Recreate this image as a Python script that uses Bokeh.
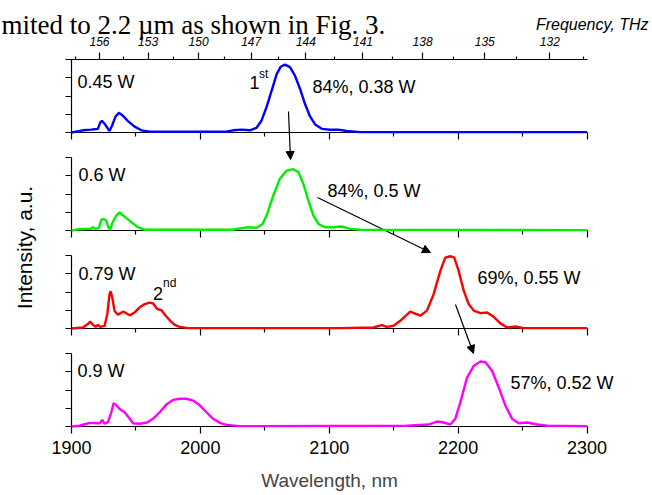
import math
from bokeh.plotting import figure
from bokeh.models import (Range1d, LinearAxis, FixedTicker, CustomJSTickFormatter,
                          Label, Arrow, NormalHead)
from bokeh.embed import file_html
from bokeh.resources import INLINE

# ---------------- data ----------------
wl_ticks = [1900, 2000, 2100, 2200, 2300]
wl_minor = [1950, 2050, 2150, 2250]
freq_major = [156, 153, 150, 147, 144, 141, 138, 135, 132]
freq_minor = [157.5, 154.5, 151.5, 148.5, 145.5, 142.5, 139.5, 136.5, 133.5, 130.5]
C_NM_THZ = 299792.458

pump_labels = ["0.45 W", "0.6 W", "0.79 W", "0.9 W"]
eff_labels = ["84%, 0.38 W", "84%, 0.5 W", "69%, 0.55 W", "57%, 0.52 W"]
colors = ["#0000ff", "#00ee00", "#ff0000", "#ff00ff"]

wl_045 = [1900, 1908.8, 1915.3, 1917.9, 1920.5, 1922.3, 1923.6, 1925.7, 1927.8, 1929.5,
          1931.6, 1934.2, 1936.8, 1939.9, 1943.8, 1949, 1954.2, 1960.7, 2020, 2025.4,
          2032, 2038.4, 2043.6, 2047.5, 2051.4, 2055.3, 2059.2, 2062.3, 2065.6, 2069.5,
          2073.4, 2077.3, 2081.2, 2085.1, 2089, 2094.2, 2100.6, 2107, 2113.6, 2124, 2300]
int_045 = [0.00, 0.03, 0.04, 0.045, 0.05, 0.14, 0.16, 0.12, 0.065, 0.02,
           0.10, 0.22, 0.27, 0.23, 0.155, 0.08, 0.03, 0.01, 0.01, 0.03,
           0.04, 0.03, 0.065, 0.165, 0.35, 0.575, 0.80, 0.90, 0.93, 0.895,
           0.78, 0.60, 0.39, 0.22, 0.11, 0.05, 0.037, 0.04, 0.02, 0.005, 0.005]

wl_06 = [1900, 1906.2, 1915.3, 1916.6, 1918.7, 1921.3, 1923.1, 1924.9, 1927, 1928.5,
         1930.1, 1931.6, 1934.8, 1937.3, 1941.2, 1946.4, 1951.6, 1956.8, 2025, 2030.6,
         2037.1, 2043.6, 2048.3, 2051.9, 2056.6, 2061.7, 2066.9, 2072.1, 2076, 2079.9,
         2083.8, 2087.7, 2091.6, 2096.7, 2103.2, 2109.7, 2116.2, 2124, 2300]
int_06 = [0.0, 0.018, 0.023, 0.045, 0.023, 0.037, 0.147, 0.155, 0.137, 0.045,
          0.01, 0.10, 0.205, 0.247, 0.19, 0.115, 0.045, 0.01, 0.01, 0.027,
          0.045, 0.037, 0.09, 0.23, 0.48, 0.71, 0.82, 0.84, 0.80, 0.64,
          0.41, 0.205, 0.09, 0.045, 0.045, 0.055, 0.023, 0.01, 0.005]

wl_079 = [1900, 1908.8, 1912.7, 1914.5, 1916.6, 1918.7, 1920.5, 1922.3, 1925.7, 1927.8,
          1929.5, 1930.3, 1931.6, 1933.4, 1936, 1939.9, 1942.5, 1945.1, 1949, 1952.9,
          1956.8, 1960.7, 1963.2, 1966.3, 1969.8, 1973.1, 1976.7, 1980.1, 1984, 1990.4,
          2108, 2134.3, 2140.8, 2144.7, 2149.9, 2155.1, 2162.8, 2170.6, 2175.8, 2181,
          2186.2, 2190, 2193.9, 2197, 2200.4, 2204.3, 2208.2, 2212.1, 2217.3, 2222.4,
          2227.6, 2232.8, 2238, 2244.5, 2251, 2300]
int_079 = [0.0, 0.014, 0.06, 0.096, 0.05, 0.023, 0.05, 0.023, 0.037, 0.2,
           0.47, 0.51, 0.43, 0.24, 0.19, 0.23, 0.21, 0.18, 0.22, 0.29,
           0.335, 0.355, 0.345, 0.27, 0.25, 0.175, 0.105, 0.05, 0.023, 0.005,
           0.005, 0.014, 0.047, 0.023, 0.037, 0.105, 0.23, 0.175, 0.245, 0.47,
           0.79, 0.97, 0.99, 0.97, 0.79, 0.52, 0.335, 0.245, 0.21, 0.22,
           0.16, 0.07, 0.014, 0.027, 0.005, 0.005]

wl_09 = [1900, 1906.2, 1914, 1919.2, 1921.8, 1923.9, 1925.7, 1928.3, 1930.9, 1932.7,
         1934.8, 1937.3, 1941.2, 1944.6, 1947.7, 1952.9, 1958.6, 1963.2, 1968.4, 1973.6,
         1978.8, 1984, 1989.1, 1994.3, 1999.5, 2004.7, 2009.9, 2015.1, 2020.3, 2030.6,
         2160.2, 2177, 2183.6, 2188.8, 2193.9, 2197.8, 2201.7, 2206.9, 2212.1, 2217.3,
         2221.2, 2226.4, 2231.5, 2236.7, 2241.9, 2247, 2253.5, 2261.3, 2269.1, 2300]
int_09 = [0.0, 0.01, 0.05, 0.045, 0.045, 0.09, 0.037, 0.06, 0.195, 0.32,
          0.29, 0.24, 0.195, 0.12, 0.045, 0.037, 0.055, 0.105, 0.195, 0.30,
          0.365, 0.38, 0.38, 0.355, 0.29, 0.195, 0.105, 0.05, 0.023, 0.005,
          0.01, 0.027, 0.068, 0.055, 0.027, 0.105, 0.33, 0.67, 0.83, 0.89,
          0.88, 0.76, 0.535, 0.285, 0.105, 0.045, 0.055, 0.027, 0.01, 0.005]

spectra = [(wl_045, int_045), (wl_06, int_06), (wl_079, int_079), (wl_09, int_09)]

# ---------------- layout (frame = whole canvas, page pixel coordinates) ----------------
FONT = "Liberation Sans"
W, H = 650, 494
X1900, X2300 = 71.0, 586.5           # page x of 1900 nm and 2300 nm
PXNM = (X2300 - X1900) / 400.0
PANEL_BASE = [132, 230, 328, 426]   # page y of each panel baseline
UNIT = 73.0                         # px for one intensity unit


def xd(page_x):
    return 1900 + (page_x - X1900) / PXNM


def yd(page_y):
    return H - page_y


p = figure(width=W, height=H, output_backend="svg", toolbar_location=None,
           x_range=Range1d(xd(0), xd(W)), y_range=Range1d(0, H),
           y_axis_location=None,
           min_border_left=0, min_border_right=0, min_border_top=0, min_border_bottom=0)
p.outline_line_color = None
p.grid.visible = False
p.background_fill_color = "white"
p.border_fill_color = "white"

blank = CustomJSTickFormatter(code="return '';")

extra = {}
for k, base in enumerate(PANEL_BASE):
    extra["p%d" % k] = Range1d(-(H - base) / UNIT, base / UNIT)
p.extra_y_ranges = extra

for k, (wl, it) in enumerate(spectra):
    name = "p%d" % k
    p.line(wl, it, y_range_name=name, line_color=colors[k], line_width=2.4, level="overlay")
    la = LinearAxis(y_range_name=name, fixed_location=1900, bounds=(0, 1),
                    ticker=FixedTicker(ticks=[0, 0.25, 0.5, 0.75, 1.0], minor_ticks=[]),
                    formatter=blank, major_tick_out=6, major_tick_in=0,
                    minor_tick_out=0, minor_tick_in=0, axis_line_width=1.2,
                    major_tick_line_width=1.2)
    p.add_layout(la, "left")
    if k < 3:
        ba = LinearAxis(y_range_name=name, fixed_location=0, bounds=(1900, 2300),
                        ticker=FixedTicker(ticks=wl_ticks, minor_ticks=wl_minor),
                        formatter=blank, major_tick_out=7, major_tick_in=0,
                        minor_tick_out=4, minor_tick_in=0, axis_line_width=1.2,
                        major_tick_line_width=1.2, minor_tick_line_width=1.2)
        p.add_layout(ba, "below")

xa = p.xaxis[0]
xa.y_range_name = "p3"
xa.fixed_location = 0
xa.bounds = (1900, 2300)
xa.ticker = FixedTicker(ticks=wl_ticks, minor_ticks=wl_minor)
xa.major_tick_out = 7
xa.major_tick_in = 0
xa.minor_tick_out = 4
xa.minor_tick_in = 0
xa.axis_line_width = 1.2
xa.major_tick_line_width = 1.2
xa.minor_tick_line_width = 1.2
xa.major_label_standoff = 7
xa.major_label_text_font = FONT
xa.major_label_text_font_size = "18px"
xa.major_label_text_color = "black"
xa.axis_label = "Wavelength, nm"
xa.axis_label_text_font = FONT
xa.axis_label_text_font_size = "19px"
xa.axis_label_text_font_style = "normal"
xa.axis_label_standoff = 13

fa = LinearAxis(y_range_name="p0", fixed_location=1.0, bounds=(1900, 2300),
                ticker=FixedTicker(ticks=[C_NM_THZ / f for f in freq_major],
                                   minor_ticks=[C_NM_THZ / f for f in freq_minor]),
                formatter=CustomJSTickFormatter(code="return Math.round(299792.458 / tick).toString();"),
                major_tick_out=7, major_tick_in=0, minor_tick_out=3, minor_tick_in=0,
                axis_line_width=1.2, major_tick_line_width=1.2, minor_tick_line_width=1.2,
                major_label_standoff=7, major_label_text_font=FONT,
                major_label_text_font_size="12px", major_label_text_font_style="italic",
                major_label_text_color="black")
p.add_layout(fa, "above")

# ---------------- texts ----------------
def lab(text, x, y, size="18px", align="left", style="normal", font=FONT, angle=0.0,
        baseline="alphabetic"):
    p.add_layout(Label(x=xd(x), y=yd(y), text=text, text_font=font, text_font_size=size,
                       text_align=align, text_baseline=baseline, text_font_style=style,
                       angle=angle, text_color="black"))

pump_pos = [(77, 81.7), (78, 174.5), (78, 273.5), (77, 370)]
eff_pos = [(312, 86.7), (327, 190), (477, 277.5), (510, 382.7)]
for t, (x, y) in zip(pump_labels, pump_pos):
    lab(t, x, y)
for t, (x, y) in zip(eff_labels, eff_pos):
    lab(t, x, y)

lab("1", 249, 81.7)
lab("st", 258.5, 73, size="12px")
lab("2", 152.5, 292.7)
lab("nd", 162.5, 282.7, size="12px")

lab("Frequency, THz", 648, 24, size="16px", align="right", style="italic")
lab("Intensity, a.u.", 24, 247, size="21px", align="center", angle=math.pi / 2,
    baseline="middle")
lab("mited to 2.2 \u00b5m as shown in Fig. 3.", 1, 24, size="27px",
    font="Liberation Serif")

# ---------------- arrows ----------------
arrows = [((288, 111), (290, 159)), ((317, 197), (430, 252)), ((455, 304), (473, 353))]
for (x0, y0), (x1, y1) in arrows:
    p.add_layout(Arrow(end=NormalHead(size=8, fill_color="black", line_color="black",
                                      line_width=1),
                       x_start=xd(x0), y_start=yd(y0), x_end=xd(x1), y_end=yd(y1),
                       line_color="black", line_width=1.2))

open("out.html", "w").write(file_html(p, INLINE))
